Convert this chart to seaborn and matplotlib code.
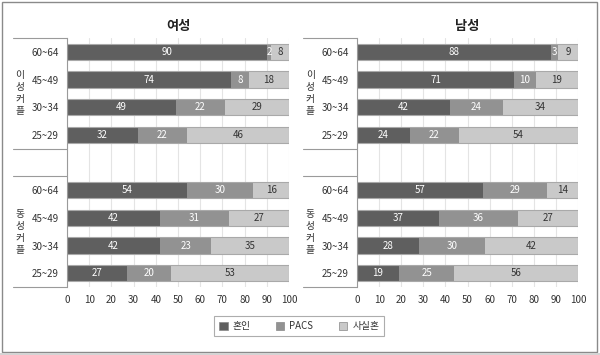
import pandas as pd
import matplotlib.pyplot as plt
import matplotlib.transforms as mtransforms
from matplotlib.patches import Patch, Rectangle
import seaborn as sns

# data (percent)
ages = ['60~64', '45~49', '30~34', '25~29']
statuses = ['혼인', 'PACS', '사실혼']

f_hetero_marriage = [90, 74, 49, 32]
f_hetero_pacs = [2, 8, 22, 22]
f_hetero_cohab = [8, 18, 29, 46]
f_same_marriage = [54, 42, 42, 27]
f_same_pacs = [30, 31, 23, 20]
f_same_cohab = [16, 27, 35, 53]

m_hetero_marriage = [88, 71, 42, 24]
m_hetero_pacs = [3, 10, 24, 22]
m_hetero_cohab = [9, 19, 34, 54]
m_same_marriage = [57, 37, 28, 19]
m_same_pacs = [29, 36, 30, 25]
m_same_cohab = [14, 27, 42, 56]

colors = {'혼인': '#5f5f5f', 'PACS': '#929292', '사실혼': '#c9c9c9'}
text_colors = {'혼인': 'white', 'PACS': 'white', '사실혼': '#333333'}

rows = []
panels = {
    '여성': {'이성': (f_hetero_marriage, f_hetero_pacs, f_hetero_cohab),
             '동성': (f_same_marriage, f_same_pacs, f_same_cohab)},
    '남성': {'이성': (m_hetero_marriage, m_hetero_pacs, m_hetero_cohab),
             '동성': (m_same_marriage, m_same_pacs, m_same_cohab)},
}
for sex, groups in panels.items():
    for couple, series in groups.items():
        for i, age in enumerate(ages):
            cum = 0
            for status, vals in zip(statuses, series):
                cum += vals[i]
                rows.append({'sex': sex, 'couple': couple, 'age': age,
                             'slot': f'{couple}|{age}', 'status': status,
                             'value': vals[i], 'cum': cum})
df = pd.DataFrame(rows)

slot_order = [f'이성|{a}' for a in ages] + ['gap'] + [f'동성|{a}' for a in ages]
tick_labels = ages + [''] + ages

sns.set_theme(style='white')
plt.rcParams['font.family'] = ['Noto Sans CJK KR', 'DejaVu Sans']

fig = plt.figure(figsize=(6, 3.55), dpi=100)
ax_f = fig.add_axes([67 / 600, 1 - 287 / 355, 222 / 600, 249 / 355])
ax_m = fig.add_axes([357 / 600, 1 - 287 / 355, 221 / 600, 249 / 355])

line_col = '#9a9a9a'
for ax, sex in [(ax_f, '여성'), (ax_m, '남성')]:
    sub = df[df['sex'] == sex]
    ax.set_axisbelow(True)
    ax.grid(axis='x', color='#e4e4e4', linewidth=0.8)
    # stacked bars: draw cumulative totals from the back
    for status in reversed(statuses):
        part = sub[sub['status'] == status]
        sns.barplot(data=part, x='cum', y='slot', order=slot_order, orient='h',
                    color=colors[status], saturation=1, width=0.6,
                    linewidth=0, errorbar=None, ax=ax)
    outline = sub[sub['status'] == statuses[-1]]
    sns.barplot(data=outline, x='cum', y='slot', order=slot_order, orient='h',
                color='#a9a9a9', fill=False, width=0.6, linewidth=0.8,
                errorbar=None, ax=ax)
    for _, r in sub.iterrows():
        y = slot_order.index(r['slot'])
        ax.text(r['cum'] - r['value'] / 2, y, str(r['value']), ha='center',
                va='center', fontsize=7, color=text_colors[r['status']])

    ax.set_xlim(0, 100)
    ax.set_ylim(8.5, -0.5)
    ax.set_xticks(range(0, 101, 10))
    ax.set_yticks(range(len(slot_order)))
    ax.set_yticklabels(tick_labels)
    ax.tick_params(axis='both', length=0, labelsize=7, colors='#333333')
    ax.tick_params(axis='y', pad=6)
    ax.tick_params(axis='x', pad=6)
    ax.set_xlabel('')
    ax.set_ylabel('')
    for side in ['top', 'right', 'bottom']:
        ax.spines[side].set_visible(False)
    ax.spines['left'].set_color(line_col)
    ax.spines['left'].set_linewidth(0.8)
    ax.set_title(sex, fontsize=9.5, fontweight='bold', pad=5.5, color='#222222')

    # table lines on the left of the category labels
    trans = mtransforms.blended_transform_factory(ax.transAxes, ax.transData)
    x0 = -54 / 222
    for yy in [-0.5, 3.5, 4.5, 8.5]:
        ax.plot([x0, 0], [yy, yy], color=line_col, lw=0.8, transform=trans,
                clip_on=False)
    for couple, yc in [('이성', 1.5), ('동성', 6.5)]:
        ax.text(-47 / 222, yc, '\n'.join(couple + '커플'), transform=trans,
                ha='center', va='center', fontsize=7, linespacing=1.25,
                color='#333333')

handles = [Patch(facecolor=colors[s], edgecolor='#888888', linewidth=0.5,
                 label=s) for s in statuses]
leg = fig.legend(handles=handles, loc='center', bbox_to_anchor=(299 / 600, 1 - 326 / 355),
                 ncol=3, fontsize=7, frameon=True, fancybox=False,
                 handlelength=0.9, handleheight=0.9, handletextpad=0.5,
                 columnspacing=2.6, borderpad=0.5)
leg.get_frame().set_edgecolor('#999999')
leg.get_frame().set_linewidth(0.8)
for t in leg.get_texts():
    t.set_color('#333333')

# outer frame
fig.patches.append(Rectangle((1.5 / 600, 3 / 355), 595.5 / 600, 350 / 355,
                             transform=fig.transFigure, fill=False,
                             edgecolor='#8a8a8a', linewidth=1.0))
fig.patches.append(Rectangle((0, 0), 1, 2.5 / 355, transform=fig.transFigure,
                             facecolor='#d4d4d4', edgecolor='none'))

fig.savefig('out.png', dpi=100)
plt.close(fig)
